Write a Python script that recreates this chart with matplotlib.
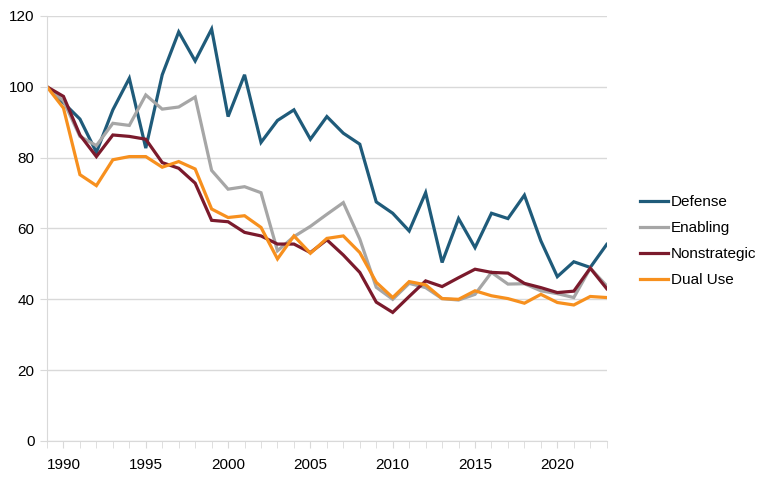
import matplotlib
matplotlib.use('Agg')
from matplotlib import pyplot as plt

years = list(range(1989, 2024))

defense = [100, 95.5, 90.9, 81.5, 93.5, 102.4, 82.7, 103.4, 115.5, 107.3, 116.3, 91.6,
           103.4, 84.3, 90.5, 93.5, 85.2, 91.6, 86.9, 83.8, 67.5, 64.3, 59.3, 70.1,
           50.4, 62.8, 54.6, 64.3, 62.8, 69.4, 56.5, 46.4, 50.6, 49.0, 55.5]
enabling = [100, 96.0, 86.0, 83.4, 89.7, 89.1, 97.7, 93.7, 94.3, 97.1, 76.4, 71.1,
            71.8, 70.1, 53.7, 57.7, 60.6, 64.0, 67.3, 57.0, 43.4, 40.0, 44.5, 43.3,
            40.2, 39.8, 41.4, 47.6, 44.3, 44.4, 42.4, 41.6, 40.5, 48.8, 43.8]
nonstrategic = [100, 97.3, 86.4, 80.3, 86.4, 86.0, 85.2, 78.6, 77.0, 72.8, 62.3, 61.9,
                58.9, 57.9, 55.6, 55.6, 53.2, 56.8, 52.5, 47.6, 39.2, 36.3, 40.8, 45.2,
                43.6, 46.1, 48.5, 47.6, 47.4, 44.5, 43.3, 41.9, 42.3, 48.8, 43.0]
dual_use = [100, 94.0, 75.2, 72.1, 79.4, 80.3, 80.3, 77.3, 78.9, 76.8, 65.5, 63.1,
            63.6, 60.3, 51.4, 57.9, 53.0, 57.2, 57.9, 53.2, 44.8, 40.5, 45.0, 44.1,
            40.2, 40.0, 42.4, 41.0, 40.2, 38.9, 41.4, 39.1, 38.4, 40.8, 40.5]

series = [("Defense", defense, "#1f5b7a"),
          ("Enabling", enabling, "#a6a6a6"),
          ("Nonstrategic", nonstrategic, "#7b1a2c"),
          ("Dual Use", dual_use, "#f7901e")]

plt.rcParams['font.family'] = ['Liberation Sans Narrow', 'Liberation Sans', 'DejaVu Sans']

fig = plt.figure(figsize=(7.68, 4.8), dpi=100)
ax = fig.add_axes([0.0612, 0.0813, 0.7288, 0.8854])

for name, vals, col in series:
    ax.plot(years, vals, color=col, lw=2.3, label=name, solid_joinstyle='miter')

ax.set_xlim(1989, 2023)
ax.set_ylim(0, 120)
ax.set_yticks(range(0, 121, 20))
ax.set_xticks(years, minor=True)
ax.set_xticks(range(1990, 2021, 5))
ax.yaxis.grid(True, color='#d9d9d9', lw=1)
ax.set_axisbelow(True)

for s in ['top', 'right']:
    ax.spines[s].set_visible(False)
ax.spines['left'].set_color('#d9d9d9')
ax.spines['bottom'].set_color('#d9d9d9')
ax.tick_params(axis='y', length=5, color='#d9d9d9', labelsize=11, labelcolor='#000000', pad=4)
ax.tick_params(axis='x', which='both', length=5, color='#d9d9d9', labelsize=11, pad=7)

ax.legend(loc='center left', bbox_to_anchor=(1.035, 0.47), frameon=False, fontsize=11,
          handlelength=1.8, handletextpad=0.2, labelspacing=0.78)

plt.savefig("out.png", dpi=100)
